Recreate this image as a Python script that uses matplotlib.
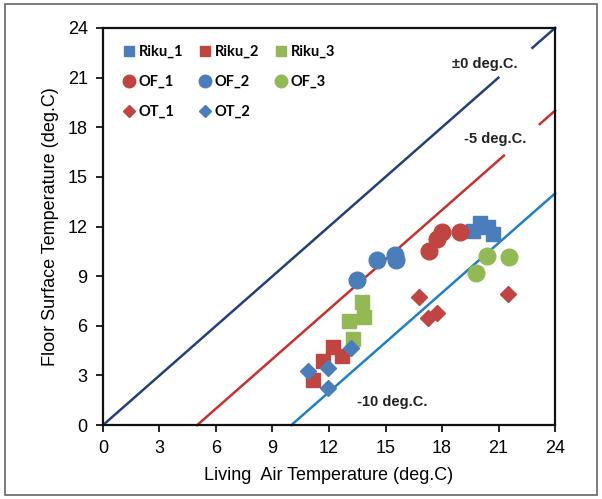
import numpy as np
import matplotlib

matplotlib.use("Agg")
import matplotlib.pyplot as plt
from matplotlib.patches import Rectangle

plt.rcParams["font.family"] = ["Liberation Sans", "DejaVu Sans"]

# data (living air temp, floor surface temp)
riku1_x = [19.65, 20.0, 20.45, 20.7]
riku1_y = [11.75, 12.2, 11.95, 11.55]
riku2_x = [11.15, 11.7, 12.2, 12.7]
riku2_y = [2.7, 3.9, 4.75, 4.15]
riku3_x = [13.25, 13.05, 13.75, 13.85]
riku3_y = [5.2, 6.3, 7.45, 6.55]
of1_x = [17.3, 17.75, 18.0, 18.95]
of1_y = [10.55, 11.25, 11.7, 11.65]
of2_x = [13.5, 14.55, 15.5, 15.55]
of2_y = [8.75, 9.95, 10.3, 10.0]
of3_x = [19.8, 20.4, 21.55]
of3_y = [9.2, 10.25, 10.15]
ot1_x = [16.8, 17.25, 17.75, 21.5]
ot1_y = [7.75, 6.45, 6.75, 7.95]
ot2_x = [10.9, 11.95, 11.95, 13.15]
ot2_y = [3.25, 3.45, 2.25, 4.65]

# reference lines y = x + offset
line_offsets = [0, -5, -10]
line_labels = ["\u00b10 deg.C.", "-5 deg.C.", "-10 deg.C."]
line_gaps = [(21.0, 22.75), (21.3, 23.15), None]

BLUE = "#4A7EBB"
RED = "#C0443F"
GREEN = "#93B955"
line_colors = ["#24407A", "#C8302E", "#1E80C8"]

fig = plt.figure(figsize=(6.02, 4.99), dpi=100)
ax = fig.add_axes([0.171, 0.148, 0.751, 0.796])

for off, col, gap in zip(line_offsets, line_colors, line_gaps):
    x = np.linspace(max(0, -off), 24, 400)
    y = x + off
    if gap is not None:
        y = np.where((x > gap[0]) & (x < gap[1]), np.nan, y)
    ax.plot(x, y, color=col, lw=1.8, zorder=1, clip_on=False)

label_pos = [(20.25, 21.85), (20.8, 17.3), (15.35, 1.4)]
for (tx, ty), txt in zip(label_pos, line_labels):
    ax.text(tx, ty, txt, ha="center", va="center", fontsize=10.5,
            fontweight="bold", color="#222222")

sq = dict(marker="s", ms=10, ls="none", zorder=3)
ci = dict(marker="o", ms=12, ls="none", zorder=3)
di = dict(marker="D", ms=8, ls="none", zorder=3)

h_r1, = ax.plot(riku1_x, riku1_y, color=BLUE, label="Riku_1", **sq)
h_r2, = ax.plot(riku2_x, riku2_y, color=RED, label="Riku_2", **sq)
h_r3, = ax.plot(riku3_x, riku3_y, color=GREEN, label="Riku_3", **sq)
h_o1, = ax.plot(of1_x, of1_y, color=RED, label="OF_1", **ci)
h_o2, = ax.plot(of2_x, of2_y, color=BLUE, label="OF_2", **ci)
h_o3, = ax.plot(of3_x, of3_y, color=GREEN, label="OF_3", **ci)
h_t1, = ax.plot(ot1_x, ot1_y, color=RED, label="OT_1", **di)
h_t2, = ax.plot(ot2_x, ot2_y, color=BLUE, label="OT_2", **di)

ax.set_xlim(0, 24)
ax.set_ylim(0, 24)
ax.set_xticks(np.arange(0, 25, 3))
ax.set_yticks(np.arange(0, 25, 3))
ax.tick_params(direction="out", length=5, width=1.2, labelsize=13, pad=6)
for s in ax.spines.values():
    s.set_linewidth(1.6)
    s.set_color("#111111")

ax.set_xlabel("Living  Air Temperature (deg.C)", fontsize=13, labelpad=7)
ax.set_ylabel("Floor Surface Temperature (deg.C)", fontsize=13, labelpad=6)

handles = [h_r1, h_o1, h_t1, h_r2, h_o2, h_t2, h_r3, h_o3]
leg = ax.legend(handles=handles, ncol=3, loc="upper left",
                bbox_to_anchor=(0.01, 0.99), frameon=False,
                prop={"family": ["Lato", "DejaVu Sans"], "weight": "bold", "size": 10.5},
                handletextpad=0.05, columnspacing=0.9, labelspacing=1.1,
                handlelength=1.2, markerscale=0.75)

fig.patches.append(Rectangle((0.008, 0.008), 0.984, 0.984, transform=fig.transFigure,
                             fill=False, ec="#666666", lw=1.2))

fig.savefig("out.png", dpi=100)
